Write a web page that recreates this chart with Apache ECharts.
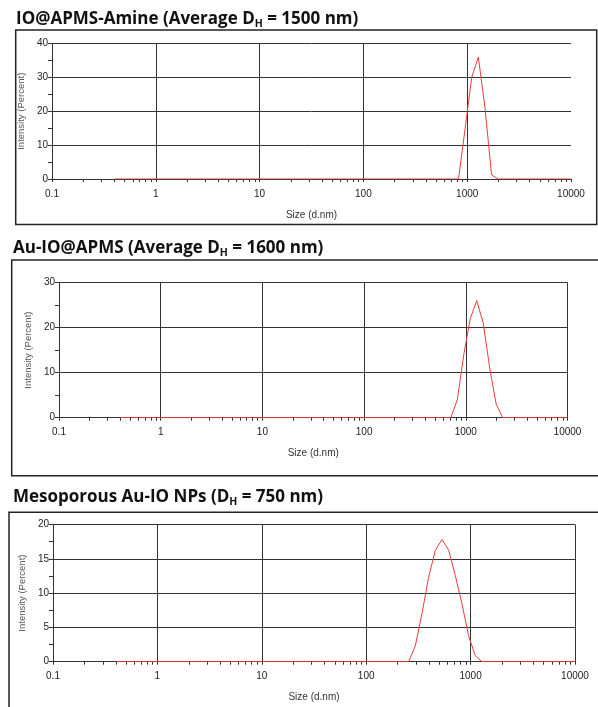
<!DOCTYPE html>
<html>
<head>
<meta charset="utf-8">
<title>DLS size distributions</title>
<script src="https://cdn.jsdelivr.net/npm/echarts@6/dist/echarts.min.js"></script>
<style>
  html, body { margin: 0; padding: 0; background: #fff; }
  #chart { width: 598px; height: 707px; }
</style>
</head>
<body>
<div id="chart"></div>
<script>
// size bins (d.nm) and intensity (%)
const sizeAmine = [0.4, 825, 955.4, 1106, 1281, 1484, 1718, 1990, 10000];
const intAmine = [0, 0, 15, 30, 36, 21, 1.2, 0, 0];

const sizeAuIO = [0.4, 712.4, 825, 955.4, 1106, 1281, 1484, 1718, 1990, 2305, 10000];
const intAuIO = [0, 0, 4, 14, 22, 26, 21, 11, 3, 0, 0];

const sizeMeso = [0.4, 255, 295.3, 342, 396.1, 458.7, 531.2, 615.1, 712.4, 825, 955.4, 1106, 1281, 10000];
const intMeso = [0, 0, 2.3, 7, 12.3, 16.2, 17.8, 16.3, 12.6, 8.5, 3.8, 0.9, 0, 0];

const yMaxes = [40, 30, 20];
const yIntervals = [10, 10, 5];

const chart = echarts.init(document.getElementById("chart"));

const toPairs = (xs, ys) => xs.map((x, i) => [x, ys[i]]);

// panel grids (pixels)
const grids = [
  { left: 52, right: 27, top: 43.5, height: 135.5 },
  { left: 59, right: 30.5, top: 282.5, height: 135.2 },
  { left: 53, right: 23, top: 524.5, height: 137.2 },
];

function xAxisOf(i) {
  return {
    type: "log",
    logBase: 10,
    gridIndex: i,
    min: 0.1,
    max: 10000,
    name: "Size (d.nm)",
    nameLocation: "middle",
    nameGap: 31,
    nameTextStyle: { fontFamily: "Liberation Sans", fontSize: 10, color: "#333" },
    axisLine: { show: true, lineStyle: { color: "#333", width: 1 } },
    axisTick: { show: true, length: 3, lineStyle: { color: "#333" } },
    minorTick: { show: true, splitNumber: 9, length: 3, lineStyle: { color: "#333" } },
    axisLabel: {
      fontFamily: "Liberation Sans",
      fontSize: 10,
      color: "#222",
      margin: 10,
      formatter: (v) => String(v),
    },
    splitLine: {
      show: true,
      showMaxLine: i !== 0, // first panel has no line at 10000
      lineStyle: { color: "#333", width: 1 },
    },
  };
}

function yAxisOf(i) {
  return {
    type: "value",
    gridIndex: i,
    min: 0,
    max: yMaxes[i],
    interval: yIntervals[i],
    name: "Intensity (Percent)",
    nameLocation: "middle",
    nameGap: 24,
    nameTextStyle: { fontFamily: "Liberation Sans", fontSize: 9.5, color: "#555" },
    axisLine: { show: true, lineStyle: { color: "#333", width: 1 } },
    axisTick: { show: true, length: 4, lineStyle: { color: "#333" } },
    minorTick: { show: true, splitNumber: 2, length: 4, lineStyle: { color: "#333" } },
    axisLabel: { fontFamily: "Liberation Sans", fontSize: 10, color: "#222", margin: 4 },
    splitLine: { show: true, lineStyle: { color: "#333", width: 1 } },
  };
}

const titleStyle = {
  fontFamily: "Open Sans",
  fontWeight: "bold",
  fontSize: 17,
  color: "#111",
  rich: {
    sub: { fontFamily: "Open Sans", fontWeight: "bold", fontSize: 10.5, color: "#111", padding: [10, 0, 0, 0] },
  },
};

// frames drawn around each panel
const frame = (x, y, w, h) => ({
  type: "rect",
  shape: { x, y, width: w, height: h },
  style: { fill: null, stroke: "#222", lineWidth: 1.5 },
  z: 100,
});

const lineSeries = (i, xs, ys) => ({
  type: "line",
  xAxisIndex: i,
  yAxisIndex: i,
  data: toPairs(xs, ys),
  showSymbol: false,
  lineStyle: { color: "#ee3b3b", width: 1 },
  itemStyle: { color: "#ee3b3b" },
  animation: false,
  z: 5,
});

const option = {
  animation: false,
  backgroundColor: "#fff",
  title: [
    { text: "IO@APMS-Amine (Average D{sub|H} = 1500 nm)", left: 16, top: 9, textStyle: titleStyle, padding: 0 },
    { text: "Au-IO@APMS (Average D{sub|H} = 1600 nm)", left: 13, top: 238, textStyle: titleStyle, padding: 0 },
    { text: "Mesoporous Au-IO NPs (D{sub|H} = 750 nm)", left: 13, top: 487, textStyle: titleStyle, padding: 0 },
  ],
  grid: grids,
  xAxis: [xAxisOf(0), xAxisOf(1), xAxisOf(2)],
  yAxis: [yAxisOf(0), yAxisOf(1), yAxisOf(2)],
  series: [
    lineSeries(0, sizeAmine, intAmine),
    lineSeries(1, sizeAuIO, intAuIO),
    lineSeries(2, sizeMeso, intMeso),
  ],
  graphic: [
    frame(15.7, 30, 581, 194.5),
    frame(11.7, 260, 600, 215.7),
    frame(9, 512.3, 600, 210),
  ],
};

chart.setOption(option);
</script>
</body>
</html>
